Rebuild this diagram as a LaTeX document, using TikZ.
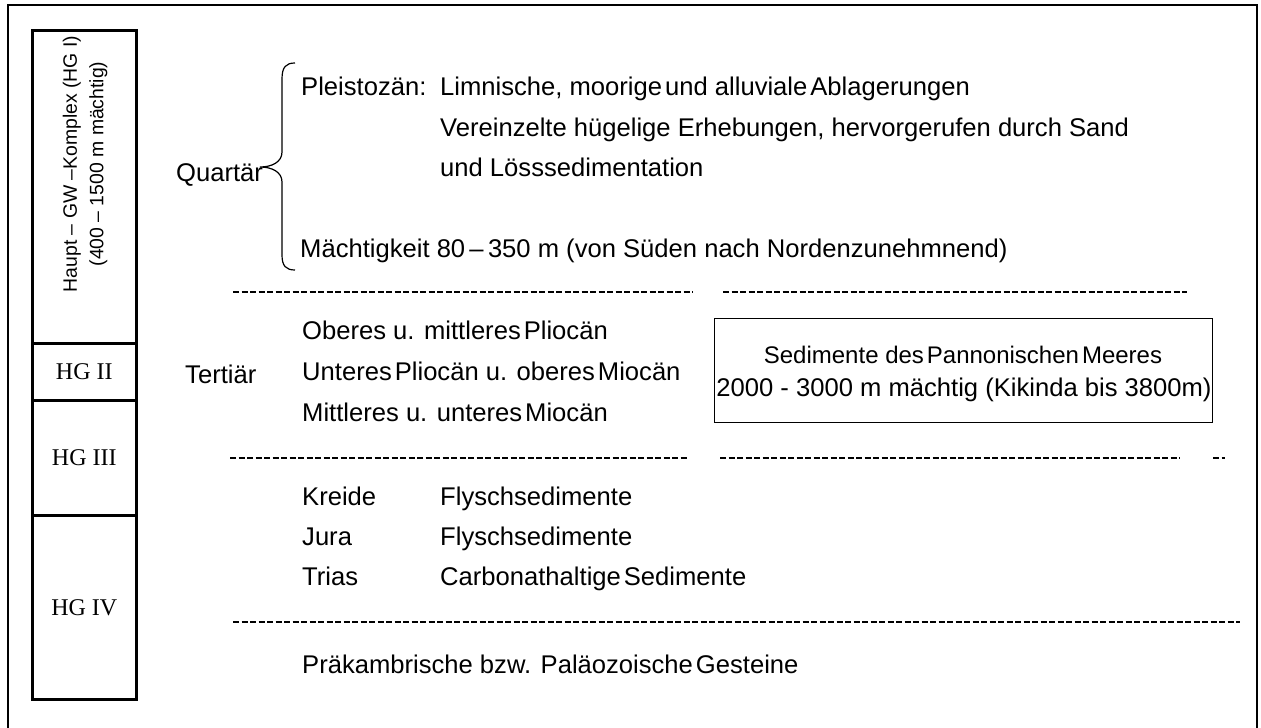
\documentclass[tikz,border=0pt]{standalone}
\usepackage{fontspec}
\setmainfont{Liberation Sans}
\newfontfamily\hgfont{Liberation Serif}
\newcommand{\gap}{\hspace{3pt}}

\begin{document}
\begin{tikzpicture}[x=1pt,y=-1pt,
  txt/.style={anchor=base west, inner sep=0pt, font=\fontsize{25.6}{30}\selectfont},
  boxtxt/.style={anchor=base, inner sep=0pt, font=\fontsize{25.6}{30}\selectfont},
  hgbox/.style={draw, line width=2.6pt, minimum width=104pt, anchor=north west,
    inner sep=0pt, font=\hgfont\fontsize{24}{28}\selectfont},
  dashline/.style={line width=1.3pt, dash pattern=on 6pt off 2.5pt},
]
\useasboundingbox (0,0) rectangle (1261,728);

% frame, open at the bottom
\draw[line width=1.5pt]
  (8,728) -- (8,5) -- (1257,5) -- (1257,728);

% left column
\node[hgbox, minimum height=313pt] (hgI) at (31,29) {};
\node[hgbox, minimum height=57pt] (hgII) at (31,342) {HG II};
\node[hgbox, minimum height=115pt] (hgIII) at (31,399) {HG III};
\node[hgbox, minimum height=184pt] (hgIV) at (31,514) {HG IV};
\node[rotate=90, align=center, inner sep=0pt,
  font=\fontsize{19.4}{26.5}\selectfont] (hgIlabel) at (85,164)
  {Haupt – GW –Komplex (HG I)\\(400 – 1500 m mächtig)};

% Quartaer
\node[txt] (quartaer) at (176,181) {Quartär};
\draw[line width=1.2pt]
  (295,63)
  .. controls (286,63) and (282,67) ..
  (282,79)
  -- (282,152)
  .. controls (282,162) and (272,167) ..
  (260,167)
  .. controls (272,167) and (282,172) ..
  (282,182)
  -- (282,255)
  .. controls (282,266) and (286,270) ..
  (295,270);

\node[txt] (pleisto) at (301,95) {Pleistozän:};
\node[txt] (limn) at (440,95) {Limnische, moorige\gap und alluviale\gap Ablagerungen};
\node[txt] (hueg) at (440,136) {Vereinzelte hügelige Erhebungen, hervorgerufen durch Sand};
\node[txt] (loess) at (440,176) {und Lösssedimentation};
\node[txt] (maecht) at (300,257) {Mächtigkeit 80\,–\,350 m (von Süden nach Nordenzunehmnend)};

\draw[dashline] (233,292) -- (693,292);
\draw[dashline] (723,292) -- (1187,292);

% Tertiaer
\node[txt] (tertiaer) at (185,383) {Tertiär};
\node[txt] (plioO) at (302,339) {Oberes u. mittleres\gap Pliocän};
\node[txt] (plioU) at (302,380) {Unteres\gap Pliocän u. oberes\gap Miocän};
\node[txt] (mioc) at (302,421) {Mittleres u. unteres\gap Miocän};

\node[draw, line width=1.1pt, minimum width=498pt, minimum height=104pt,
  anchor=north west, inner sep=0pt] (pann) at (714,318) {};
\node[boxtxt, font=\fontsize{24}{30}\selectfont] (pannA) at (963,363)
  {Sedimente des\gap Pannonischen\gap Meeres};
\node[boxtxt] (pannB) at (964,396) {2000 - 3000 m mächtig (Kikinda bis 3800m)};

\draw[dashline] (230,458) -- (687,458);
\draw[dashline] (720,458) -- (1180,458);
\draw[dashline] (1213,458) -- (1225,458);

% Mesozoikum
\node[txt] (kreide) at (302,505) {Kreide};
\node[txt] (kreideS) at (440,505) {Flyschsedimente};
\node[txt] (jura) at (302,545) {Jura};
\node[txt] (juraS) at (440,545) {Flyschsedimente};
\node[txt] (trias) at (302,585) {Trias};
\node[txt] (triasS) at (440,585) {Carbonathaltige\gap Sedimente};

\draw[dashline] (233,622) -- (1240,622);

\node[txt] (grund) at (302,673) {Präkambrische bzw. Paläozoische\gap Gesteine};

\end{tikzpicture}
\end{document}
